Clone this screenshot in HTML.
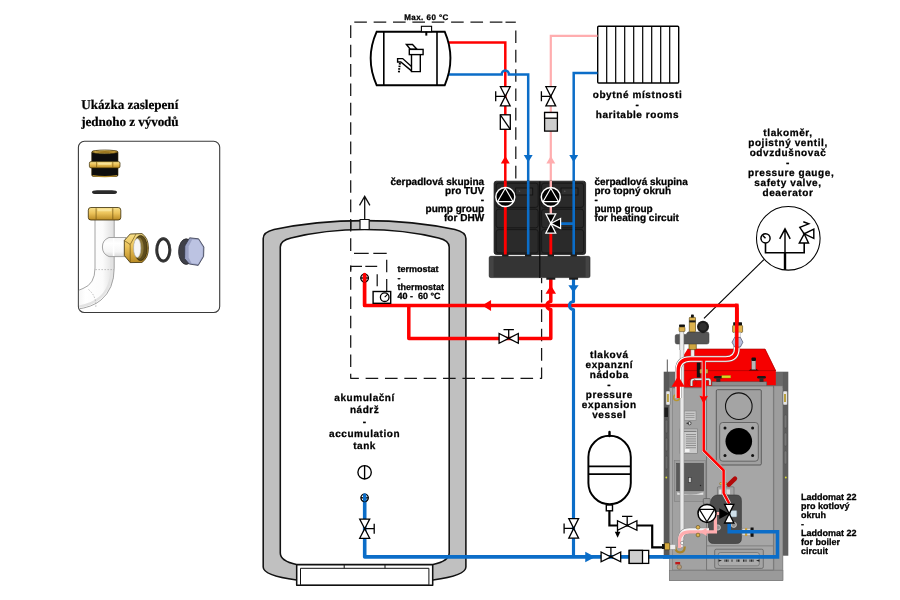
<!DOCTYPE html>
<html lang="cs"><head><meta charset="utf-8"><title>Schéma zapojení</title>
<style>
html,body{margin:0;padding:0;background:#fff;}
body{width:900px;height:600px;overflow:hidden;}
svg{display:block;will-change:transform;filter:blur(0.35px);}
text{text-rendering:geometricPrecision;font-family:"Liberation Sans",sans-serif;font-weight:bold;fill:#000;stroke:#000;stroke-width:0.28px;stroke-linejoin:round;}
.ser{font-family:"Liberation Serif",serif;font-weight:bold;fill:#000;stroke-width:0.2px;}
</style></head><body>
<svg width="900" height="600" viewBox="0 0 900 600">
<rect width="900" height="600" fill="#fff"/>
<defs>
<linearGradient id="brV" x1="0" y1="0" x2="0" y2="1"><stop offset="0" stop-color="#f7e08a"/><stop offset="0.45" stop-color="#ecc35a"/><stop offset="1" stop-color="#b98a24"/></linearGradient>
<linearGradient id="brH" x1="0" y1="0" x2="1" y2="0"><stop offset="0" stop-color="#c4962c"/><stop offset="0.3" stop-color="#f4d877"/><stop offset="0.7" stop-color="#ecc35a"/><stop offset="1" stop-color="#b98a24"/></linearGradient>
<linearGradient id="pipeH" x1="0" y1="0" x2="1" y2="0"><stop offset="0" stop-color="#f2f2f2"/><stop offset="0.25" stop-color="#ffffff"/><stop offset="0.7" stop-color="#fbfbfb"/><stop offset="1" stop-color="#dedede"/></linearGradient>
<linearGradient id="pipeV" x1="0" y1="0" x2="0" y2="1"><stop offset="0" stop-color="#f4f4f4"/><stop offset="0.3" stop-color="#ffffff"/><stop offset="0.75" stop-color="#f6f6f6"/><stop offset="1" stop-color="#d8d8d8"/></linearGradient>
</defs>
<g id="infobox">
<text x="81.3" y="108.7" font-size="13.2" text-anchor="start" textLength="97" lengthAdjust="spacing" class="ser">Ukázka zaslepení</text>
<text x="81.3" y="125.8" font-size="13.2" text-anchor="start" textLength="97.4" lengthAdjust="spacing" class="ser">jednoho z vývodů</text>
<clipPath id="boxclip"><rect x="78.9" y="141.8" width="140.4" height="170.4" rx="5.5"/></clipPath>
<rect x="78.4" y="141.3" width="141.3" height="171.2" rx="6" fill="#fff" stroke="#3a3a3a" stroke-width="1.1"/>
<g clip-path="url(#boxclip)">
<path d="M95,219 L95,268 Q95,284 83,288.5 Q80,290 76,290.8 L76,309.3 Q92,307.5 101,300 Q114.2,289 114.2,268 L114.2,219 Z" fill="url(#pipeH)" stroke="#9a9a9a" stroke-width="0.9"/>
<path d="M111.6,257 L111.6,268 Q111.6,288 99.5,298 Q92,304.5 79,306.6" fill="none" stroke="#e3e3e3" stroke-width="2.4"/>
<path d="M126,237.5 L109,237.5 Q102.4,240 102.4,247 Q102.4,254 109,256.6 L126,256.6 Z" fill="url(#pipeV)" stroke="#9a9a9a" stroke-width="0.9"/>
<path d="M113.6,238.2 V255.9" stroke="#fff" stroke-width="1.6"/>
<path d="M95.4,269.6 L114,269.6" stroke="#9a9a9a" stroke-width="0.6" stroke-dasharray="1.6 1.4"/>
<path d="M88.5,289.5 Q96.5,296 95.8,307" stroke="#9a9a9a" stroke-width="0.6" stroke-dasharray="1.6 1.4" fill="none"/>
<rect x="91.7" y="151" width="26.3" height="25.4" rx="1.6" fill="#0d0d0d" stroke="#3a2c06" stroke-width="0.6"/>
<ellipse cx="104.8" cy="151.9" rx="12.8" ry="1.9" fill="url(#brH)" stroke="#3a2c06" stroke-width="0.7"/>
<ellipse cx="104.8" cy="152" rx="9.5" ry="0.9" fill="#9a7620"/>
<rect x="89.4" y="161.6" width="30.6" height="6.3" rx="1.6" fill="url(#brV)" stroke="#3a2c06" stroke-width="0.7"/>
<path d="M96.6,162 V167.6 M112.8,162 V167.6" stroke="#7a5c12" stroke-width="0.7"/>
<rect x="98" y="162.8" width="13.4" height="2" rx="1" fill="#fbe9a2" opacity="0.8"/>
<path d="M92.6,175.6 Q104.8,177.6 117,175.6" stroke="#b08a2c" stroke-width="1.1" fill="none"/>
<rect x="92" y="190.3" width="25" height="3.8" rx="5" ry="1.9" fill="#2a2a2a"/>
<rect x="88.3" y="207.5" width="32.5" height="12.5" rx="2.6" fill="url(#brV)" stroke="#3a2c06" stroke-width="0.8"/>
<path d="M96.1,208.2 V219.4 M112.8,208.2 V219.4" stroke="#6e5210" stroke-width="0.7"/>
<rect x="97.5" y="208.8" width="14" height="2.4" rx="1.2" fill="#fbe9a2" opacity="0.8"/>
<path d="M124.3,240.5 L130.2,234 L142,233.6 Q148.4,238 148.4,248 Q148.4,258 142,262.4 L130.2,262.6 L124.3,255.5 Z" fill="url(#brV)" stroke="#3a2c06" stroke-width="0.8"/>
<path d="M124.3,240.5 L130.2,244.5 L130.2,262.6 M130.2,244.5 L136,234" stroke="#5a430c" stroke-width="0.6" fill="none"/>
<ellipse cx="140.6" cy="248" rx="6.6" ry="12.6" fill="#5d4c1c" stroke="#2e2406" stroke-width="0.7"/>
<ellipse cx="139" cy="248" rx="4.6" ry="10.4" fill="#8a7638"/>
<ellipse cx="137.2" cy="248" rx="3.6" ry="9.4" fill="#f6f6f6" stroke="#bdbdbd" stroke-width="0.6"/>
<ellipse cx="163.3" cy="249.9" rx="6.5" ry="11.1" fill="#fff" stroke="#2e2e2e" stroke-width="3"/>
<ellipse cx="163.3" cy="249.9" rx="7.6" ry="12.2" fill="none" stroke="#555" stroke-width="0.5"/>
<ellipse cx="186.2" cy="251.6" rx="7.6" ry="12.8" fill="#3f4048" stroke="#26262b" stroke-width="0.8"/>
<path d="M184.8,246 L189.6,237.8 L198.6,238.8 L203.9,247 L203.6,256.4 L198.2,265.4 L189.2,264 L184.6,258.6 Z" fill="#9aa1c4" stroke="#34374a" stroke-width="0.8" stroke-linejoin="round"/>
<path d="M188.6,246.6 L192.2,239.4 L198.4,240 L202.8,247.4 L202.6,256 L198,264 L191.6,263.2 L188.6,257.4 Z" fill="#bcc3e2"/>
</g></g>
<g id="tank" stroke="#111" stroke-width="1.55" stroke-linejoin="round">
<path d="M263.2,567 L263.2,238.6 Q263.2,232.2 274,229.6 Q315,220.6 364.7,220.6 Q414,220.6 455,229.6 Q465.9,232.2 465.9,238.6 L465.9,567 Q465.9,575.5 433,580 L296.5,580 Q263.2,575.5 263.2,567 Z" fill="#c0c0c0"/>
<path d="M280.3,553 L280.3,247 Q280.3,240.5 291,238 Q325,229.5 364.7,229.5 Q404,229.5 438.5,238 Q449.2,240.5 449.2,247 L449.2,553 Q449.2,561 433,564.5 L296.5,564.5 Q280.3,561 280.3,553 Z" fill="#fff"/>
<rect x="296.7" y="564.7" width="136" height="20.6" fill="#fff"/>
<rect x="300.5" y="568.3" width="128.4" height="16.6" fill="#fff" stroke-width="1"/>
<path d="M344.2,564.7V568.3M385,564.7V568.3" stroke-width="1" fill="none"/>
<path d="M350.8,220.6V230" stroke-width="1.3" fill="none"/>
<rect x="360" y="219.5" width="9.2" height="10" fill="#fff" stroke-width="1.2"/>
<path d="M364.7,219.5V197M359.5,205.3L364.7,196.4L369.9,205.3" fill="none" stroke-width="1.3" stroke-linejoin="miter"/>
</g>
<g id="dashes" fill="none" stroke="#161616" stroke-width="1.25" stroke-linejoin="round">
<path d="M541.6,278 V378.3 H350.7 V22.2 H503" stroke-dasharray="12.6 6.76" stroke-dashoffset="7.35"/>
<path d="M505.5,22.2 H515.8"/>
<path d="M515.8,30.5 V181" stroke-dasharray="12.6 6.73"/>
<path d="M350.7,257 V265.4" stroke="#fff" stroke-width="2.4"/>
<path d="M350.7,266.3 V271.7"/>
<path d="M354,253.3 H368.7 M373.3,253.3 H386.7 M386.7,259.7 V272.3 M386.7,279 V291"/>
<path d="M350.7,266.3 H362 M365.3,266.3 H377.2 M377.2,274.3 V286.3"/>
</g>
<g id="rad" stroke="#000" stroke-width="1.4" fill="#fff">
<rect x="597.7" y="26.3" width="81" height="56.7" rx="1"/>
<path d="M606.7,26.3V83M615.7,26.3V83M624.7,26.3V83M633.7,26.3V83M642.7,26.3V83M651.7,26.3V83M660.7,26.3V83M669.7,26.3V83" fill="none" stroke-width="1.2"/>
</g>
<g id="pipes" fill="none" stroke-linejoin="miter" stroke-width="2.5">
<path d="M446,42.5 H505.3 V183" stroke="#ff0000"/>
<path d="M446,74.4 H501.7 A3.6,3.9 0 0 1 508.9,74.4 H528.2 V183" stroke="#0b6dc8"/>
<path d="M597.5,35.8 H550.8 V183" stroke="#ffadaf" stroke-width="2.2"/>
<path d="M597.5,73 H573.7 V183" stroke="#0b6dc8"/>
</g>
<polygon points="505.3,156.10000000000002 509.75,163.45000000000002 505.3,163.45000000000002 500.85,163.45000000000002" fill="#ff0000"/>
<polygon points="528.2,162.2 532.6500000000001,155.04999999999998 528.2,155.04999999999998 523.75,155.04999999999998" fill="#0b6dc8"/>
<polygon points="550.8,156.10000000000002 555.25,163.45000000000002 550.8,163.45000000000002 546.3499999999999,163.45000000000002" fill="#ffadaf"/>
<polygon points="573.7,162.2 578.1500000000001,155.04999999999998 573.7,155.04999999999998 569.25,155.04999999999998" fill="#0b6dc8"/>
<g fill="#fff" stroke="#000" stroke-width="1.3" stroke-linejoin="miter"><polygon points="500.40000000000003,86.7 510.2,86.7 505.3,96.3"/><polygon points="500.40000000000003,105.89999999999999 510.2,105.89999999999999 505.3,96.3"/><path d="M505.3,96.3L495.7,96.3M495.7,101.3L495.7,91.3" fill="none"/></g>
<g stroke="#000" stroke-width="1.3" fill="#fff"><rect x="500.3" y="114.8" width="10" height="14.5"/><path d="M500.3,114.8L510.3,129.3"/></g>
<g fill="#fff" stroke="#000" stroke-width="1.3" stroke-linejoin="miter"><polygon points="545.9,86.7 555.6999999999999,86.7 550.8,96.3"/><polygon points="545.9,105.89999999999999 555.6999999999999,105.89999999999999 550.8,96.3"/><path d="M550.8,96.3L541.4,96.3M541.4,101.3L541.4,91.3" fill="none"/></g>
<g stroke="#000" stroke-width="1.3"><rect x="544.6" y="112.5" width="12.8" height="18.6" fill="#cdcdcd"/><rect x="544.6" y="112.5" width="12.8" height="5.7" fill="#fff"/></g>
<g id="dhw" stroke="#000" fill="none" stroke-width="1.9">
<path d="M376.7,31.7 L444.7,31.7 Q456.2,58.5 444.7,85.3 L376.7,85.3 Q364.6,58.5 376.7,31.7 Z" fill="#fff" stroke-linejoin="miter"/>
<path d="M383.8,31.7V85.3M437,31.7V85.3" stroke-width="1.6"/>
<rect x="421.4" y="26.3" width="10.2" height="5.4" fill="#fff" stroke-width="1.1"/>
<path d="M426.3,31.7V35.6" stroke-width="2"/>
<g stroke-width="1.4" stroke-linejoin="miter">
<path d="M406.4,44.5 L412.5,44.5 L417,49.3 L410.3,49.3 Z"/>
<rect x="409.3" y="49.4" width="13.8" height="5.2"/>
<path d="M411.5,54.6 V71.6 H420.3 V54.6"/>
<path d="M411.5,66.6 L402.7,58.6 L397.6,58.6 L397.6,62 L400.8,62 L411.5,70.9"/>
<path d="M399.9,63 L398.8,73" stroke-dasharray="1.6 1" stroke-width="2"/>
</g></g>
<text x="404.2" y="20" font-size="8" text-anchor="start" textLength="44.2" lengthAdjust="spacing" >Max. 60 °C</text>
<path d="M763.9,259.6 L704,318.4" stroke="#000" stroke-width="1.2" fill="none"/>
<g fill="none" stroke-linejoin="round">
<path d="M408.8,305.5 V338.5 H550.8 V309.4 A3.9,3.9 0 0 1 550.8,301.6 V279" stroke="#ff0000" stroke-width="3.5"/>
<path d="M364.6,275 V305.5 H736.8 V330" stroke="#ff0000" stroke-width="3.7" stroke-linecap="round"/>
<path d="M573.5,279 V301.5 A4,4 0 0 0 573.5,309.5 V557" stroke="#0b6dc8" stroke-width="3.15"/>
<path d="M364.7,497.5 V556.9 H777.5 V531.7 H729.2 V523" stroke="#0b6dc8" stroke-width="3.6"/>
</g>
<polygon points="482.2,305.5 491.05,299.95 491.05,305.5 491.05,311.05" fill="#ff0000"/>
<polygon points="550.8,285.2 556.05,293.84999999999997 550.8,293.84999999999997 545.55,293.84999999999997" fill="#ff0000"/>
<polygon points="573.5,292.5 578.65,285.15 573.5,285.15 568.35,285.15" fill="#0b6dc8"/>
<polygon points="595.2,556.9 585.25,551.65 585.25,556.9 585.25,562.15" fill="#0b6dc8"/>
<g fill="#fff" stroke="#000" stroke-width="1.3" stroke-linejoin="miter"><polygon points="499.09999999999997,333.5 499.09999999999997,343.29999999999995 508.7,338.4"/><polygon points="518.3,333.5 518.3,343.29999999999995 508.7,338.4"/><path d="M508.7,338.4L508.7,329.59999999999997M513.9,329.59999999999997L503.5,329.59999999999997" fill="none"/></g>
<g fill="#fff" stroke="#000" stroke-width="1.3" stroke-linejoin="miter"><polygon points="568.8000000000001,518.6 578.6,518.6 573.7,528.4"/><polygon points="568.8000000000001,538.1999999999999 578.6,538.1999999999999 573.7,528.4"/><path d="M573.7,528.4L564.1,528.4M564.1,533.4L564.1,523.4" fill="none"/></g>
<g fill="#fff" stroke="#000" stroke-width="1.3" stroke-linejoin="miter"><polygon points="601.1,552.0 601.1,561.8 610.9,556.9"/><polygon points="620.6999999999999,552.0 620.6999999999999,561.8 610.9,556.9"/><path d="M610.9,556.9L610.9,547.3M616.1,547.3L605.6999999999999,547.3" fill="none"/></g>
<g fill="#fff" stroke="#000" stroke-width="1.3" stroke-linejoin="miter"><polygon points="359.7,519.1 369.7,519.1 364.7,528.7"/><polygon points="359.7,538.3000000000001 369.7,538.3000000000001 364.7,528.7"/><path d="M364.7,528.7L374.2,528.7M374.2,523.7L374.2,533.7" fill="none"/></g>
<g stroke="#000" stroke-width="1.3"><rect x="629.2" y="550.4" width="19.5" height="13" fill="#fff"/><rect x="629.2" y="550.4" width="13.3" height="13" fill="#cfcfcf"/></g>
<g stroke="#000" stroke-width="1.35" fill="#fff">
<circle cx="364.6" cy="472.3" r="6.7"/><path d="M364.6,465.5V479.1"/>
</g>
<g stroke="#000" stroke-width="1.3" fill="none"><circle cx="364.6" cy="497.8" r="3.7"/><path d="M361,497.8H368.2"/></g>
<path d="M364.7,495V500" stroke="#0b6dc8" stroke-width="3.4" stroke-linecap="round"/>
<g stroke="#000" stroke-width="1.3" fill="none"><circle cx="364.6" cy="278" r="3.8"/><path d="M360.7,278H368.5"/></g>
<path d="M364.6,274.5V281" stroke="#ff0000" stroke-width="3.4" stroke-linecap="round"/>
<g stroke="#000" stroke-width="1.4" fill="#fff"><rect x="373.1" y="291.5" width="17.6" height="11.8"/><circle cx="384.7" cy="297.2" r="4.3" stroke-width="1.3"/><path d="M384.7,297.2L388,293.8" stroke-width="1.1"/></g>
<g id="pumps">
<rect x="494.1" y="181.2" width="91.5" height="73.2" rx="2.2" fill="#2a2a2a" stroke="#161616" stroke-width="0.8"/>
<rect x="489.2" y="256.3" width="100.8" height="21.3" rx="1.6" fill="#343434" stroke="#1c1c1c" stroke-width="0.6"/>
<rect x="489.6" y="257" width="4" height="20" fill="#444"/><rect x="585.6" y="257" width="4" height="20" fill="#444"/>
<g fill="none" stroke="#151515" stroke-width="0.9">
<rect x="496.2" y="183.2" width="42" height="24.2" rx="2.5"/><rect x="496.2" y="209.2" width="42" height="18.6" rx="2.5"/><rect x="496.2" y="229.6" width="42" height="23.4" rx="2.5"/>
<rect x="541.6" y="183.2" width="42" height="24.2" rx="2.5"/><rect x="541.6" y="209.2" width="42" height="18.6" rx="2.5"/><rect x="541.6" y="229.6" width="42" height="23.4" rx="2.5"/>
</g>
<rect x="515.7" y="188" width="17" height="7" fill="#303030" stroke="#111" stroke-width="0.8"/>
<rect x="561" y="188" width="17" height="7" fill="#303030" stroke="#111" stroke-width="0.8"/>
<circle cx="519.5" cy="191.2" r="0.8" fill="#555"/><circle cx="564.8" cy="191.2" r="0.8" fill="#555"/>
<path d="M539.8,181.5V278" stroke="#0c0c0c" stroke-width="1.2"/>
<g fill="#1c1c1c">
<rect x="502.1" y="254" width="6.4" height="2.6"/>
<rect x="525.0" y="254" width="6.4" height="2.6"/>
<rect x="547.5999999999999" y="254" width="6.4" height="2.6"/>
<rect x="570.5" y="254" width="6.4" height="2.6"/>
<rect x="546.3" y="277.3" width="9" height="2.4"/>
<rect x="569.1" y="277.3" width="9" height="2.4"/>
</g>
<g fill="none" stroke-width="2.6">
<path d="M505.3,181 V254.5" stroke="#ff0000" stroke-width="2.9"/>
<path d="M528.2,181 V254.5" stroke="#0b6dc8"/>
<path d="M550.8,181 V214" stroke="#ffadaf" stroke-width="2.4"/>
<path d="M550.8,232 V254.5" stroke="#ff0000" stroke-width="2.9"/>
<path d="M573.7,181 V254.5 M573.7,223.6 H560" stroke="#0b6dc8"/>
</g>
<circle cx="505.3" cy="197" r="9.5" fill="#000" stroke="#fff" stroke-width="1.5"/>
<polygon points="505.3,188.2 513.1,201.7 497.5,201.7" fill="#000" stroke="#fff" stroke-width="1.2" stroke-linejoin="round"/>
<circle cx="550.8" cy="197" r="9.5" fill="#000" stroke="#fff" stroke-width="1.5"/>
<polygon points="550.8,188.2 558.5999999999999,201.7 543.0,201.7" fill="#000" stroke="#fff" stroke-width="1.2" stroke-linejoin="round"/>
<g fill="#000" stroke="#fff" stroke-width="1.2" stroke-linejoin="miter">
<polygon points="545.8,213.8 555.8,213.8 550.8,223.4"/><polygon points="545.8,233.2 555.8,233.2 550.8,223.4"/><polygon points="560.6,218.5 560.6,228.4 550.8,223.4"/>
</g></g>
<g id="exp" stroke="#000" fill="none" stroke-width="1.95">
<path d="M588.4,457 A21.2,21.2 0 0 1 630.8,457 V483 A21.2,21.2 0 0 1 588.4,483 Z" fill="#fff"/>
<path d="M588.4,466.4H630.8M588.4,474.2H630.8" stroke-width="1.7"/>
<path d="M609.5,432V436" stroke-width="2.4" stroke-linecap="round"/>
<rect x="606.3" y="505" width="6.2" height="5.8" fill="#fff" stroke-width="1.4"/>
<path d="M609.4,510.8 V525.5 H652.2 V547.4 H662.5" stroke-width="2.2"/>
<path d="M617.6,525.5V533" stroke-width="1.2"/>
<polygon points="617.6,537.8 614.8,531.8 620.4,531.8" fill="#000" stroke="none"/>
</g>
<g fill="#fff" stroke="#000" stroke-width="1.3" stroke-linejoin="miter"><polygon points="617.5,520.7 617.5,530.3 627.2,525.5"/><polygon points="636.9000000000001,520.7 636.9000000000001,530.3 627.2,525.5"/><path d="M627.2,525.5L627.2,516.3M632.4000000000001,516.3L622.0,516.3" fill="none"/></g>
<g id="boiler">
<rect x="663.7" y="371.7" width="124.6" height="184" fill="#5c5c5c"/>
<rect x="669.3" y="387.6" width="113.6" height="193" fill="#a7a7a7" stroke="#787878" stroke-width="0.6"/>
<rect x="669.3" y="372.2" width="113.6" height="15.4" fill="#6a6a6a"/>
<rect x="669.3" y="570.6" width="113.6" height="10" fill="#9a9a9a" stroke="#787878" stroke-width="0.6"/>
<rect x="664.2" y="372" width="4.6" height="183" fill="#585858"/><rect x="664.4" y="407.5" width="3.6" height="9.5" fill="#1e1e1e"/>
<rect x="783.2" y="372" width="4.6" height="183" fill="#5e5e5e"/>
<rect x="672.5" y="388" width="34" height="182" fill="#a2a2a2" stroke="#7d7d7d" stroke-width="0.6"/>
<rect x="774" y="386" width="8.5" height="184" fill="#9d9d9d" stroke="#7d7d7d" stroke-width="0.5"/>
<rect x="784.2" y="415" width="2.6" height="13" rx="1.2" fill="#777" stroke="#4d4d4d" stroke-width="0.4"/>
<rect x="665.2" y="420" width="2.6" height="13" rx="1.2" fill="#6a6a6a" stroke="#444" stroke-width="0.4"/>
<rect x="784.2" y="433" width="2.6" height="13" rx="1.2" fill="#777" stroke="#4d4d4d" stroke-width="0.4"/>
<rect x="665.2" y="438" width="2.6" height="13" rx="1.2" fill="#6a6a6a" stroke="#444" stroke-width="0.4"/>
<rect x="784.2" y="451" width="2.6" height="13" rx="1.2" fill="#777" stroke="#4d4d4d" stroke-width="0.4"/>
<rect x="665.2" y="456" width="2.6" height="13" rx="1.2" fill="#6a6a6a" stroke="#444" stroke-width="0.4"/>
<circle cx="666.3" cy="477.5" r="0.9" fill="#dddd33"/><circle cx="785.8" cy="477.5" r="0.9" fill="#dddd33"/>
<path d="M683.5,387.2 L683.5,355.5 L687.6,349 L765.3,349 L775.8,370.4 L775.8,385.2 L766.7,385.2 L766.7,382 L712,382 L712,387.2 Z" fill="#f60000"/>
<path d="M684,370.6 H775.8" stroke="#a80000" stroke-width="0.7"/>
<path d="M687.6,349 L765,349 L775.8,371" fill="none" stroke="#a00000" stroke-width="0.6"/>
<rect x="712" y="381.8" width="54.7" height="4.2" fill="#8e8e8e" stroke="#555" stroke-width="0.5"/>
<rect x="713.9" y="376" width="8.8" height="2.6" rx="1.3" fill="#1a1a1a"/><rect x="716.3" y="378.3" width="4" height="3.5" fill="#2a2a2a"/>
<rect x="757.1" y="376" width="8.8" height="2.6" rx="1.3" fill="#1a1a1a"/><rect x="759.5" y="378.3" width="4" height="3.5" fill="#2a2a2a"/>
<rect x="721.8" y="375.4" width="9" height="2.6" fill="#d8d820" stroke="#7a7a10" stroke-width="0.3"/>
<path d="M748.6,370.6 L751.6,368.8 H755.8 L758.8,370.6 Z" fill="#3a0000"/><rect x="751.7" y="360" width="4.1" height="9.6" fill="#b8b8b8" stroke="#555" stroke-width="0.4"/><rect x="751.5" y="357.5" width="4.5" height="3.5" rx="1" fill="#111"/>
<rect x="696.8" y="362.5" width="3.6" height="15" fill="#111"/>
<rect x="699.8" y="369" width="8.2" height="4.6" rx="1" fill="#d6aa40" stroke="#5e450c" stroke-width="0.4"/>
<path d="M691.5,386 V381.5 Q691.5,379.3 694,379.3 H708.5 Q710,379.3 710,381.5 V385" fill="none" stroke="#666" stroke-width="2.6"/>
<path d="M691.5,386 V381.5 Q691.5,379.3 694,379.3 H708.5 Q710,379.3 710,381.5 V385" fill="none" stroke="#e6e6e6" stroke-width="1.6"/>
<circle cx="692" cy="382.5" r="4.2" fill="none" stroke="#c00000" stroke-width="0.5"/>
<path d="M667.3,359.5V372" stroke="#444" stroke-width="0.9"/>
<rect x="706.7" y="386" width="66.6" height="184" fill="#a6a6a6" stroke="#6a6a6a" stroke-width="0.7"/>
<rect x="716.3" y="389.7" width="45" height="75.3" rx="1.2" fill="#a0a0a0" stroke="#4a4a4a" stroke-width="0.8"/>
<circle cx="738.8" cy="406.2" r="13.3" fill="#a4a4a4" stroke="#111" stroke-width="1.1"/>
<rect x="719.7" y="422.5" width="38.6" height="38.7" rx="3" fill="#a8a8a8" stroke="#555" stroke-width="0.8"/>
<circle cx="738.8" cy="441.3" r="13.3" fill="#000"/>
<circle cx="725" cy="428" r="1.5" fill="#111"/>
<circle cx="752.6" cy="428" r="1.5" fill="#111"/>
<circle cx="725" cy="455.6" r="1.5" fill="#111"/>
<circle cx="752.6" cy="455.6" r="1.5" fill="#111"/>
<rect x="665.9" y="391" width="4.4" height="14" rx="1" fill="#e8e8e8" stroke="#555" stroke-width="0.5"/><rect x="666.9" y="394" width="2" height="8" fill="#b9a040"/>
<rect x="783.0" y="391" width="4.4" height="14" rx="1" fill="#e8e8e8" stroke="#555" stroke-width="0.5"/><rect x="784.0" y="394" width="2" height="8" fill="#b9a040"/>
<rect x="714.7" y="549.2" width="48.6" height="19.2" rx="1.5" fill="#a3a3a3" stroke="#5a5a5a" stroke-width="0.7"/>
<rect x="718.3" y="552.5" width="41" height="13.3" rx="2" fill="#acacac" stroke="#666" stroke-width="0.6"/>
<path d="M718.6,559.4 L722,560.6 L718.6,561.8 Z M759.4,559.4 L756,560.6 L759.4,561.8 Z" fill="#222"/>
<path d="M724.5,560.6 H728.5 M731.5,560.6 H733 M736.5,560.6 H740 M743,560.6 H746.5 M749.5,560.6 H753.5" stroke="#2a2a2a" stroke-width="2.2" stroke-dasharray="1 0.5"/>
<rect x="706.7" y="545.5" width="66.6" height="0.8" fill="#777"/>
<rect x="684.2" y="411" width="11.8" height="9.3" fill="#c6c6c6" stroke="#808080" stroke-width="0.5"/>
<path d="M685.5,413.5H694.5M685.5,415.5H694.5M685.5,417.5H694.5" stroke="#8a8a8a" stroke-width="0.7"/>
<circle cx="689.5" cy="423.3" r="1.6" fill="#ddd" stroke="#222" stroke-width="0.7"/><path d="M686.5,423.3H689" stroke="#222" stroke-width="0.9"/>
<rect x="680" y="429" width="17.6" height="24.5" fill="#cacaca" stroke="#707070" stroke-width="0.6"/>
<path d="M681,431.3H696.5" stroke="#555" stroke-width="0.8"/>
<path d="M686,434.5H696M686,436.7H696M686,438.9H696M686,441.1H696M686,443.3H696M686,445.5H696M686,447.7H696" stroke="#777" stroke-width="0.7"/>
<rect x="685" y="449" width="4.5" height="3" fill="#f4f4f4"/>
<rect x="674.5" y="460.5" width="31" height="41" fill="#9c9c9c" stroke="#7a7a7a" stroke-width="0.5"/>
<rect x="676.6" y="463.3" width="27" height="27.5" fill="#595959" stroke="#444" stroke-width="0.5"/>
<path d="M677,492 Q690,497 703.5,492 L703.5,495 H677 Z" fill="#e2e2e2" stroke="#999" stroke-width="0.4"/>
<rect x="688.7" y="477.7" width="2.4" height="4.5" fill="#cfcfcf" stroke="#222" stroke-width="0.4"/><circle cx="700.5" cy="485.5" r="0.7" fill="#222"/>
<path d="M682,334 V540" stroke="#8c8c8c" stroke-width="4.4" fill="none"/>
<path d="M682,334 V540" stroke="#e9e9e9" stroke-width="3.3" fill="none"/>
<rect x="717.4" y="486.8" width="16.6" height="9" rx="1" fill="#a4a4a4" stroke="#555" stroke-width="0.5"/><rect x="719.2" y="489.5" width="4" height="5" fill="#e6e6e6"/><rect x="726.5" y="489.5" width="3.5" height="5" fill="#d8d8d8"/>
<rect x="719.7" y="482.5" width="7" height="2.3" rx="0.8" fill="#e2c454" stroke="#5e450c" stroke-width="0.4"/>
<path d="M708.5,507 Q708.5,503 711,500.5 Q712.6,495 718,495 H736 Q741.4,495 741.4,500.5 V538.5 Q741.4,543.5 736.4,543.5 H713.5 Q708.5,543.5 708.5,538.5 Z" fill="#4d4d4d" stroke="#333" stroke-width="0.6"/>
<path d="M728.8,484.6 L735,478.6" stroke="#b20a0a" stroke-width="4.4" stroke-linecap="round"/>
<rect x="703.3" y="498.5" width="7" height="5.5" rx="1" fill="#9a9a9a" stroke="#444" stroke-width="0.5"/>
<circle cx="717.8" cy="527.5" r="2.6" fill="#8f8f8f" stroke="#c8c8c8" stroke-width="0.9"/><circle cx="733.8" cy="524.8" r="2.6" fill="#8f8f8f" stroke="#c8c8c8" stroke-width="0.9"/>
<rect x="730.5" y="510.5" width="6.3" height="6.4" rx="1" fill="#cfe0ea" stroke="#7a8a96" stroke-width="0.5"/>
<rect x="742" y="528.2" width="8.6" height="7.6" fill="#d8d8d8" stroke="#777" stroke-width="0.5"/>
<rect x="750.6" y="527.5" width="3" height="9.3" fill="#111"/>
<rect x="745" y="528" width="2.2" height="8" fill="#c9a040"/>
<rect x="675.3" y="562" width="4.8" height="2.4" fill="#c01818"/><circle cx="679.3" cy="567" r="2.3" fill="#b59a78" stroke="#6a5a40" stroke-width="0.5"/>
<path d="M709,530.6 H689.5 Q680.4,530.6 680.4,541 V547" fill="none" stroke="#8a8a8a" stroke-width="5.6"/>
<path d="M709,530.6 H689.5 Q680.4,530.6 680.4,541 V547" fill="none" stroke="#f6f6f6" stroke-width="4.6"/>
<path d="M716,513.5 H719.5" stroke="#ffadaf" stroke-width="3" fill="none"/>
<path d="M715.4,514 V531.8 H689.5 Q679.6,531.8 679.6,541 V548" fill="none" stroke="#ffadaf" stroke-width="3.3"/>
<polygon points="700,531.8 706.6,527.7 706.6,535.9" fill="#ffadaf"/>
<circle cx="698" cy="527.3" r="1.9" fill="#dcb24e" stroke="#4e3a0a" stroke-width="0.5"/><circle cx="698" cy="535" r="1.9" fill="#dcb24e" stroke="#4e3a0a" stroke-width="0.5"/>
<path d="M675.2,546.5 Q675.6,552.4 680,552.4 Q684.6,552.4 684.8,546.5" fill="none" stroke="#a8842a" stroke-width="2.2"/>
<circle cx="682.1" cy="543" r="1.6" fill="#fff" stroke="#777" stroke-width="0.6"/>
<rect x="669.5" y="544.4" width="6.2" height="5" fill="#ededed" stroke="#888" stroke-width="0.5"/>
<rect x="664.5" y="543" width="5.2" height="6.8" rx="0.8" fill="#d6aa40" stroke="#4e3a0a" stroke-width="0.6"/>
<rect x="662" y="544" width="2.6" height="5" fill="#111"/>
<path d="M663,556.9 H777.5 V531.7 H729.2 V523" fill="none" stroke="#0b6dc8" stroke-width="3.6"/>
<circle cx="676.6" cy="397.6" r="3" fill="none" stroke="#b8962e" stroke-width="1.4"/>
<path d="M736.8,346 V348 Q736.8,359 725.8,359 H690.5 Q678.2,359 678.2,371 V398" fill="none" stroke="#777" stroke-width="6.4"/>
<path d="M736.8,346 V348 Q736.8,359 725.8,359 H690.5 Q678.2,359 678.2,371 V398" fill="none" stroke="#fff" stroke-width="5.6"/>
<path d="M703.7,359 V450.5 L723.6,470.4 V493 L729.2,503.5" fill="none" stroke="#8a8a8a" stroke-width="4.3"/>
<path d="M703.7,359 V450.5 L723.6,470.4 V493 L729.2,503.5" fill="none" stroke="#f4fbfb" stroke-width="3.6"/>
<path d="M736.8,308 V348 Q736.8,359 725.8,359 H690.5 Q678.2,359 678.2,371 V398" fill="none" stroke="#ff0000" stroke-width="3.4"/>
<path d="M703.7,359 V450.5 L723.6,470.4 V493 L729.2,503.5" fill="none" stroke="#ff0000" stroke-width="2.55"/>
<polygon points="678.2,376.0 684.85,386.65 678.2,386.65 671.5500000000001,386.65" fill="#ff0000"/>
<polygon points="703.7,403.7 707.95,395.84999999999997 703.7,396.84999999999997 699.45,395.84999999999997" fill="#ff0000"/>
<circle cx="707" cy="513.4" r="9" fill="#fff" stroke="#000" stroke-width="1.5"/>
<polygon points="699.4,509.4 714.6,509.4 707,521.8" fill="#fff" stroke="#000" stroke-width="1.2" stroke-linejoin="round"/>
<polygon points="719.3,508.3 719.3,519 729.2,513.7" fill="#000"/>
<g fill="#fff" stroke="#000" stroke-width="1.3" stroke-linejoin="miter"><polygon points="724.5,504.4 733.9,504.4 729.2,513.7"/><polygon points="724.5,523 733.9,523 729.2,513.7"/></g>
<path d="M692.6,349 V356" stroke="#9a9a9a" stroke-width="4"/><path d="M692.6,349 V356" stroke="#f0f0f0" stroke-width="2.8"/>
<rect x="689" y="343.6" width="7.3" height="6" rx="0.8" fill="#cfa53f" stroke="#4e3a0a" stroke-width="0.6"/>
<path d="M675.2,336 Q675.2,334.4 677,334.4 H686 L688,331.9 H707 Q709,331.9 709,334 V342 Q709,344 707,344 H677 Q675.2,344 675.2,342 Z" fill="#555" stroke="#3a3a3a" stroke-width="0.5"/>
<rect x="689.3" y="317.3" width="6.2" height="14.6" rx="0.8" fill="#dcb24e" stroke="#4e3a0a" stroke-width="0.6"/><rect x="691" y="314.6" width="2.8" height="3" rx="0.6" fill="#111"/><rect x="689.3" y="320.4" width="6.2" height="2" fill="#1a1a1a"/>
<circle cx="703" cy="326.8" r="6" fill="#1c1c1c"/><circle cx="703" cy="326.8" r="3.8" fill="#303030"/><rect x="701.5" y="331.5" width="3" height="1.6" fill="#1c1c1c"/>
<path d="M681.8,331 V350" stroke="#8c8c8c" stroke-width="4.6" fill="none"/><path d="M681.8,331 V350" stroke="#ececec" stroke-width="3.4" fill="none"/>
<rect x="679" y="324.4" width="6" height="2.6" rx="0.8" fill="#111"/><rect x="679" y="327" width="6" height="4.6" rx="1" fill="#d9ae4e" stroke="#4e3a0a" stroke-width="0.5"/>
<rect x="733.2" y="322.2" width="8.8" height="3.4" rx="0.5" fill="#111"/>
<rect x="732.6" y="325.4" width="10" height="7" rx="0.8" fill="#e0b44e" stroke="#4e3a0a" stroke-width="0.6"/>
<rect x="734.4" y="332.4" width="6.4" height="5.2" fill="#f2f2f2" stroke="#aaa" stroke-width="0.4"/>
<path d="M732,342.2 L734.6,337.4 H740.4 L742.9,342.2 L740.4,347 H734.6 Z" fill="#b4bcdc" stroke="#4a4f66" stroke-width="0.7"/>
<path d="M736.8,303.6 V348" fill="none" stroke="#ff0000" stroke-width="3.5"/>
</g>
<g id="sym" stroke="#000" fill="none" stroke-width="1.45" stroke-linejoin="miter">
<circle cx="788.3" cy="238.3" r="31.8" stroke-width="1.05" fill="#fff"/>
<circle cx="765.5" cy="238.3" r="4.6"/><path d="M765.5,238.3L762.5,235.2"/>
<path d="M765.5,243 V252.8 H804.2 V243" stroke-width="1.6"/>
<path d="M785,252.8 V229 M779.7,238.8 L785,228.8 L790.2,238.8"/>
<path d="M785,252.8 V269.8" stroke-width="2.4"/>
<polygon points="799.3,243 808.5,243 804.2,233.8"/>
<polygon points="813.8,229.2 813.8,238.3 804.2,233.8"/>
<path d="M804.2,233.8 L799.8,227.4 L808.7,223.8 L803.3,221.8" />
</g>
<g id="labels">
<text x="637.2" y="97.7" font-size="10" text-anchor="middle" textLength="89" lengthAdjust="spacing" >obytné místnosti</text>
<text x="637.2" y="107.7" font-size="10" text-anchor="middle" >-</text>
<text x="637.2" y="117.7" font-size="10" text-anchor="middle" textLength="82.7" lengthAdjust="spacing" >haritable rooms</text>
<text x="788" y="135.9" font-size="10" text-anchor="middle" letter-spacing="0.6" >tlakoměr,</text>
<text x="788" y="145.9" font-size="10" text-anchor="middle" letter-spacing="0.6" >pojistný ventil,</text>
<text x="788" y="155.9" font-size="10" text-anchor="middle" letter-spacing="0.6" >odvzdušnovač</text>
<text x="788" y="165.9" font-size="10" text-anchor="middle" letter-spacing="0.6" >-</text>
<text x="791.2" y="175.9" font-size="10" text-anchor="middle" letter-spacing="0.6" >pressure gauge,</text>
<text x="788" y="185.9" font-size="10" text-anchor="middle" letter-spacing="0.6" >safety valve,</text>
<text x="788" y="195.9" font-size="10" text-anchor="middle" letter-spacing="0.6" >deaerator</text>
<text x="484.2" y="184.8" font-size="10.05" text-anchor="end" >čerpadlová skupina</text>
<text x="484.2" y="194" font-size="10.05" text-anchor="end" >pro TUV</text>
<text x="484.2" y="203" font-size="10.05" text-anchor="end" >-</text>
<text x="484.2" y="212.1" font-size="10.05" text-anchor="end" >pump group</text>
<text x="484.2" y="221" font-size="10.05" text-anchor="end" >for DHW</text>
<text x="594.4" y="184.8" font-size="10" text-anchor="start" >čerpadlová skupina</text>
<text x="594.4" y="194" font-size="10" text-anchor="start" >pro topný okruh</text>
<text x="594.4" y="203" font-size="10" text-anchor="start" >-</text>
<text x="594.4" y="212.1" font-size="10" text-anchor="start" >pump group</text>
<text x="594.4" y="221" font-size="10" text-anchor="start" >for heating circuit</text>
<text x="397.5" y="272" font-size="9" text-anchor="start" xml:space="preserve">termostat</text>
<text x="397.5" y="280.8" font-size="9" text-anchor="start" xml:space="preserve">-</text>
<text x="397.5" y="290" font-size="9" text-anchor="start" xml:space="preserve">thermostat</text>
<text x="397.5" y="298.7" font-size="9" text-anchor="start" xml:space="preserve">40 -  60 °C</text>
<text x="364.6" y="400.6" font-size="10" text-anchor="middle" letter-spacing="0.55" >akumulační</text>
<text x="364.6" y="412.7" font-size="10" text-anchor="middle" letter-spacing="0.55" >nádrž</text>
<text x="364.6" y="424.8" font-size="10" text-anchor="middle" letter-spacing="0.55" >-</text>
<text x="364.6" y="436.7" font-size="10" text-anchor="middle" letter-spacing="0.55" >accumulation</text>
<text x="364.6" y="448.7" font-size="10" text-anchor="middle" letter-spacing="0.55" >tank</text>
<text x="609.3" y="358.3" font-size="10" text-anchor="middle" letter-spacing="0.6" >tlaková</text>
<text x="609.3" y="368.3" font-size="10" text-anchor="middle" letter-spacing="0.6" >expanzní</text>
<text x="609.3" y="378.3" font-size="10" text-anchor="middle" letter-spacing="0.6" >nádoba</text>
<text x="609.3" y="388.3" font-size="10" text-anchor="middle" letter-spacing="0.6" >-</text>
<text x="609.3" y="398.3" font-size="10" text-anchor="middle" letter-spacing="0.6" >pressure</text>
<text x="609.3" y="408.3" font-size="10" text-anchor="middle" letter-spacing="0.6" >expansion</text>
<text x="609.3" y="418.3" font-size="10" text-anchor="middle" letter-spacing="0.6" >vessel</text>
<text x="801" y="500" font-size="9" text-anchor="start" >Laddomat 22</text>
<text x="801" y="509" font-size="9" text-anchor="start" >pro kotlový</text>
<text x="801" y="518" font-size="9" text-anchor="start" >okruh</text>
<text x="801" y="527" font-size="9" text-anchor="start" >-</text>
<text x="801" y="536" font-size="9" text-anchor="start" >Laddomat 22</text>
<text x="801" y="545" font-size="9" text-anchor="start" >for boiler</text>
<text x="801" y="554" font-size="9" text-anchor="start" >circuit</text>
</g>
</svg></body></html>
